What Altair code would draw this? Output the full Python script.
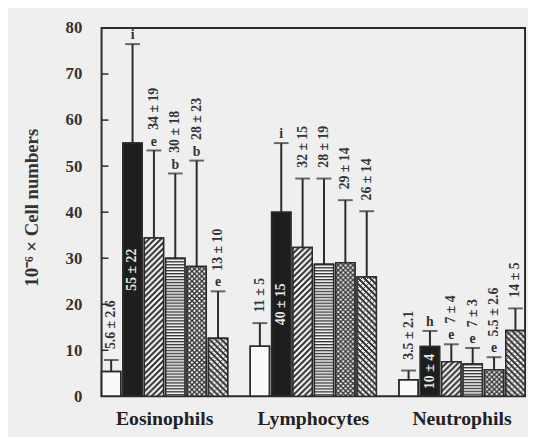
import base64
import altair as alt
import pandas as pd

# ---------------- data ----------------
groups = ["Eosinophils", "Lymphocytes", "Neutrophils"]
series = ["1", "2", "3", "4", "5", "6"]

eos_mean = [5.4, 55.0, 34.4, 30.0, 28.2, 12.6]
eos_err = [2.5, 21.5, 19.0, 18.4, 23.0, 10.2]
eos_text = ["5.6 ± 2.6", "55 ± 22", "34 ± 19", "30 ± 18", "28 ± 23", "13 ± 10"]
eos_sig = ["", "i", "e", "b", "b", "e"]

lym_mean = [10.9, 40.0, 32.3, 28.7, 29.0, 25.9]
lym_err = [5.0, 15.0, 15.0, 18.6, 13.6, 14.3]
lym_text = ["11 ± 5", "40 ± 15", "32 ± 15", "28 ± 19", "29 ± 14", "26 ± 14"]
lym_sig = ["", "i", "", "", "", ""]

neu_mean = [3.6, 10.8, 7.5, 7.0, 5.8, 14.3]
neu_err = [2.0, 3.4, 3.8, 3.5, 2.7, 4.8]
neu_text = ["3.5 ± 2.1", "10 ± 4", "7 ± 4", "7 ± 3", "5.5 ± 2.6", "14 ± 5"]
neu_sig = ["", "h", "e", "e", "e", ""]

y_ticks = [0, 10, 20, 30, 40, 50, 60, 70, 80]
inner_ticks = [10, 20, 30, 40, 50, 60, 70]

# ---------------- styles ----------------
INK = "#2b2b2b"
PAPER = "#fafafa"
FONT = "Liberation Serif"


def svg_uri(body, w, h):
    svg = (
        '<svg xmlns="http://www.w3.org/2000/svg" width="100%" height="100%">'
        f'<defs><pattern id="p" width="{w}" height="{h}" patternUnits="userSpaceOnUse">'
        f"{body}</pattern></defs>"
        f'<rect width="100%" height="100%" fill="{PAPER}"/>'
        '<rect width="100%" height="100%" fill="url(#p)"/></svg>'
    )
    return "data:image/svg+xml;base64," + base64.b64encode(svg.encode()).decode()


patterns = {
    "3": svg_uri(f'<path d="M-1,1 L1,-1 M0,6 L6,0 M5,7 L7,5" stroke="{INK}" stroke-width="2"/>', 6, 6),
    "4": svg_uri(f'<rect x="0" y="0" width="3" height="1.4" fill="#333"/>', 3, 3),
    "5": svg_uri(f'<path d="M0,0 L5,5 M5,0 L0,5" stroke="{INK}" stroke-width="1.3"/>', 5, 5),
    "6": svg_uri(
        f'<path d="M-1,5 L1,7 M0,0 L6,6 M5,-1 L7,1" stroke="{INK}" stroke-width="2"/>'
        f'<path d="M0,6 L6,0 M-1,1 L1,-1 M5,7 L7,5" stroke="{INK}" stroke-width="0.9"/>',
        6, 6),
}
fills = {"1": PAPER, "2": "#1e1e1e", "3": PAPER, "4": PAPER, "5": PAPER, "6": PAPER}

rows = []
for g, means, errs, texts, sigs in [
    (groups[0], eos_mean, eos_err, eos_text, eos_sig),
    (groups[1], lym_mean, lym_err, lym_text, lym_sig),
    (groups[2], neu_mean, neu_err, neu_text, neu_sig),
]:
    for s, m, e, t, sg in zip(series, means, errs, texts, sigs):
        rows.append(dict(group=g, series=s, mean=m, err=e, text=t, sig=sg,
                         fill=fills[s], pattern=patterns.get(s, "")))
df = pd.DataFrame(rows)

base = alt.Chart(df).transform_calculate(
    top="datum.mean + datum.err", half="datum.mean / 2", zero="0"
)

x_enc = alt.X(
    "group:N", sort=groups,
    scale=alt.Scale(paddingInner=0.152, paddingOuter=0),
    axis=alt.Axis(title=None, labelAngle=0, labelFont=FONT, labelFontSize=20,
                  labelFontWeight="bold", labelColor="#222", ticks=False,
                  domain=False, labelPadding=29, labelBaseline="alphabetic"),
)
xo_enc = alt.XOffset("series:N", sort=series,
                     scale=alt.Scale(paddingInner=0.1, paddingOuter=0))
y_axis = alt.Axis(
    values=y_ticks, title="10⁻⁶ × Cell numbers", titleX=-71, titleY=182,
    titleAngle=270, titleAlign="center", titleBaseline="middle", titleFont=FONT,
    titleFontSize=19, titleFontWeight="bold", titleColor="#333",
    labelFont=FONT, labelFontSize=17, labelFontWeight="bold", labelColor="#333",
    labelPadding=20, ticks=False, tickSize=0, domain=False, grid=False,
    labelFlush=False,
)
y_scale = alt.Scale(domain=[0, 80], nice=False)


def Y(field):
    return alt.Y(f"{field}:Q", scale=y_scale, axis=y_axis)


bars = base.mark_bar(stroke=INK, strokeWidth=1.5).encode(
    x=x_enc, xOffset=xo_enc, y=Y("mean"), y2="zero:Q",
    fill=alt.Fill("fill:N", scale=None),
)
img = base.transform_filter("datum.pattern != ''").mark_image(aspect=False).encode(
    x=x_enc, xOffset=xo_enc, y=Y("mean"), y2="zero:Q", url="pattern:N"
)
outline = base.mark_bar(fill="white", fillOpacity=0, stroke=INK, strokeWidth=1.5).encode(
    x=x_enc, xOffset=xo_enc, y=Y("mean"), y2="zero:Q"
)
whisk = base.mark_rule(color=INK, strokeWidth=2).encode(
    x=x_enc, xOffset=xo_enc, y=Y("mean"), y2="top:Q"
)
caps = base.mark_tick(orient="horizontal", size=15, thickness=2, color=INK).encode(
    x=x_enc, xOffset=xo_enc, y=Y("top")
)
letters = base.transform_filter("datum.sig != ''").mark_text(
    dy=-9, font=FONT, fontSize=14, fontWeight="bold", baseline="middle",
    align="center", color="#333"
).encode(x=x_enc, xOffset=xo_enc, y=Y("top"), text="sig:N")
lab_sig = base.transform_filter("datum.series != '2' && datum.sig != ''").mark_text(
    angle=270, align="left", baseline="middle", dx=21, font=FONT, fontSize=14,
    fontWeight="bold", color="#333"
).encode(x=x_enc, xOffset=xo_enc, y=Y("top"), text="text:N")
lab_nosig = base.transform_filter("datum.series != '2' && datum.sig == ''").mark_text(
    angle=270, align="left", baseline="middle", dx=11, font=FONT, fontSize=14,
    fontWeight="bold", color="#333"
).encode(x=x_enc, xOffset=xo_enc, y=Y("top"), text="text:N")
lab_in = base.transform_filter("datum.series == '2'").mark_text(
    angle=270, align="center", baseline="middle", font=FONT, fontSize=14,
    fontWeight="bold", color="#e8e8e8"
).encode(x=x_enc, xOffset=xo_enc, y=Y("half"), text="text:N")

tick_df = pd.DataFrame({"tick": inner_ticks})
ticks = alt.Chart(tick_df).mark_rule(color=INK, strokeWidth=1.5).encode(
    y=Y("tick"), x=alt.value(0), x2=alt.value(7)
)

chart = alt.layer(
    bars, img, outline, whisk, caps, letters, lab_sig, lab_nosig, lab_in, ticks
).properties(
    width=430, height=374,
    autosize=alt.AutoSizeParams(type="none"),
    padding={"left": 95, "top": 17, "right": 3, "bottom": 38},
    background="#efefef",
).configure_view(stroke=INK, strokeWidth=2)

chart.save("out.html", embed_options={"renderer": "svg", "actions": False})
